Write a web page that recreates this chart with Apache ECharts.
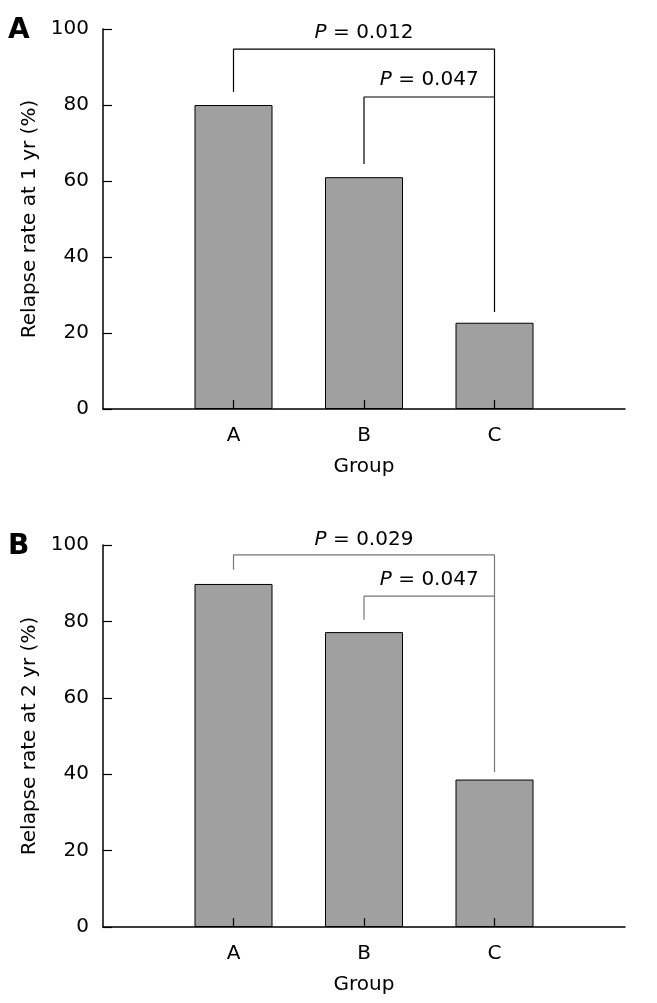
<!DOCTYPE html>
<html><head><meta charset="utf-8">
<script src="https://cdn.jsdelivr.net/npm/echarts@6/dist/echarts.min.js"></script>
<style>html,body{margin:0;padding:0;background:#fff}#c{width:657px;height:1003px}</style>
</head><body><div id="c"></div>
<script>
const categories = ['A', 'B', 'C'];
const catPos = [1, 2, 3];
const rate1yr = [80, 61, 22.7];
const rate2yr = [89.8, 77.2, 38.6];
const yTicks = [0, 20, 40, 60, 80, 100];
// brackets: [x, y] in data units
const br1Outer = [[1, 83.4], [1, 94.7], [3, 94.7], [3, 25.5]];
const br1Inner = [[2, 64.5], [2, 82.1], [3, 82.1]];
const br2Outer = [[1, 93.5], [1, 97.4], [3, 97.4], [3, 40.6]];
const br2Inner = [[2, 80.4], [2, 86.6], [3, 86.6]];
const pLabels1 = [{pos: [2, 98.9], text: '0.012'}, {pos: [2.5, 86.6], text: '0.047'}];
const pLabels2 = [{pos: [2, 101.3], text: '0.029'}, {pos: [2.5, 90.8], text: '0.047'}];

const FONT = 'DejaVu Sans';
const FS = 20;
const chart = echarts.init(document.getElementById('c'), null, {renderer: 'canvas'});

function xAx(gi) {
  return {
    gridIndex: gi, type: 'value', min: 0, max: 4, interval: 1, z: 10,
    name: 'Group', nameLocation: 'middle', nameGap: 48,
    nameTextStyle: {fontFamily: FONT, fontSize: FS, color: '#000'},
    axisLine: {show: true, lineStyle: {color: '#000', width: 1.5}},
    axisTick: {show: true, inside: true, length: 9, customValues: catPos, lineStyle: {color: '#000', width: 1.2}},
    axisLabel: {show: true, customValues: catPos, margin: 17, fontFamily: FONT, fontSize: FS, color: '#000',
      formatter: v => categories[catPos.indexOf(v)] || ''},
    splitLine: {show: false}
  };
}
function yAx(gi, name) {
  return {
    gridIndex: gi, type: 'value', min: 0, max: 100, interval: 20, z: 10,
    name: name, nameLocation: 'middle', nameGap: 60, nameRotate: 90,
    nameTextStyle: {fontFamily: FONT, fontSize: FS, color: '#000'},
    axisLine: {show: true, lineStyle: {color: '#000', width: 1.5}},
    axisTick: {show: true, inside: true, length: 9, lineStyle: {color: '#000', width: 1.2}},
    axisLabel: {margin: 14, fontFamily: FONT, fontSize: FS, color: '#000'},
    splitLine: {show: false}
  };
}
function bars(gi, vals) {
  return {type: 'bar', xAxisIndex: gi, yAxisIndex: gi, barWidth: 78,
    data: vals.map((v, i) => [catPos[i], v]),
    itemStyle: {color: '#a0a0a0', borderColor: '#000', borderWidth: 1}, z: 1};
}
function bracket(gi, pts, color) {
  return {type: 'line', xAxisIndex: gi, yAxisIndex: gi, data: pts, symbol: 'none', clip: false,
    lineStyle: {color: color, width: 1.2}, z: 3, animation: false};
}
function plabels(gi, arr) {
  return {type: 'scatter', xAxisIndex: gi, yAxisIndex: gi, clip: false, symbolSize: 1,
    itemStyle: {color: 'rgba(0,0,0,0)'},
    data: arr.map(d => ({value: d.pos, text: d.text})),
    label: {show: true, position: 'inside', fontFamily: FONT, fontSize: FS, color: '#000', opacity: 1,
      textBorderWidth: 0,
      formatter: p => '{i|P}{n| = ' + p.data.text + '}',
      rich: {
        i: {fontStyle: 'italic', fontFamily: FONT, fontSize: FS, color: '#000'},
        n: {fontFamily: FONT, fontSize: FS, color: '#000'}
      }},
    z: 4};
}

chart.setOption({
  animation: false,
  grid: [
    {left: 103, right: 32, top: 29, height: 380},
    {left: 103, right: 32, top: 545, height: 382}
  ],
  xAxis: [xAx(0), xAx(1)],
  yAxis: [yAx(0, 'Relapse rate at 1 yr (%)'), yAx(1, 'Relapse rate at 2 yr (%)')],
  graphic: [
    {type: 'text', left: 8, top: 17, style: {text: 'A', font: 'bold 28px "DejaVu Sans"', fill: '#000'}},
    {type: 'text', left: 8, top: 533, style: {text: 'B', font: 'bold 28px "DejaVu Sans"', fill: '#000'}}
  ],
  series: [
    bars(0, rate1yr), bars(1, rate2yr),
    bracket(0, br1Outer, '#000'), bracket(0, br1Inner, '#000'),
    bracket(1, br2Outer, '#777'), bracket(1, br2Inner, '#777'),
    plabels(0, pLabels1), plabels(1, pLabels2)
  ]
});
</script></body></html>
